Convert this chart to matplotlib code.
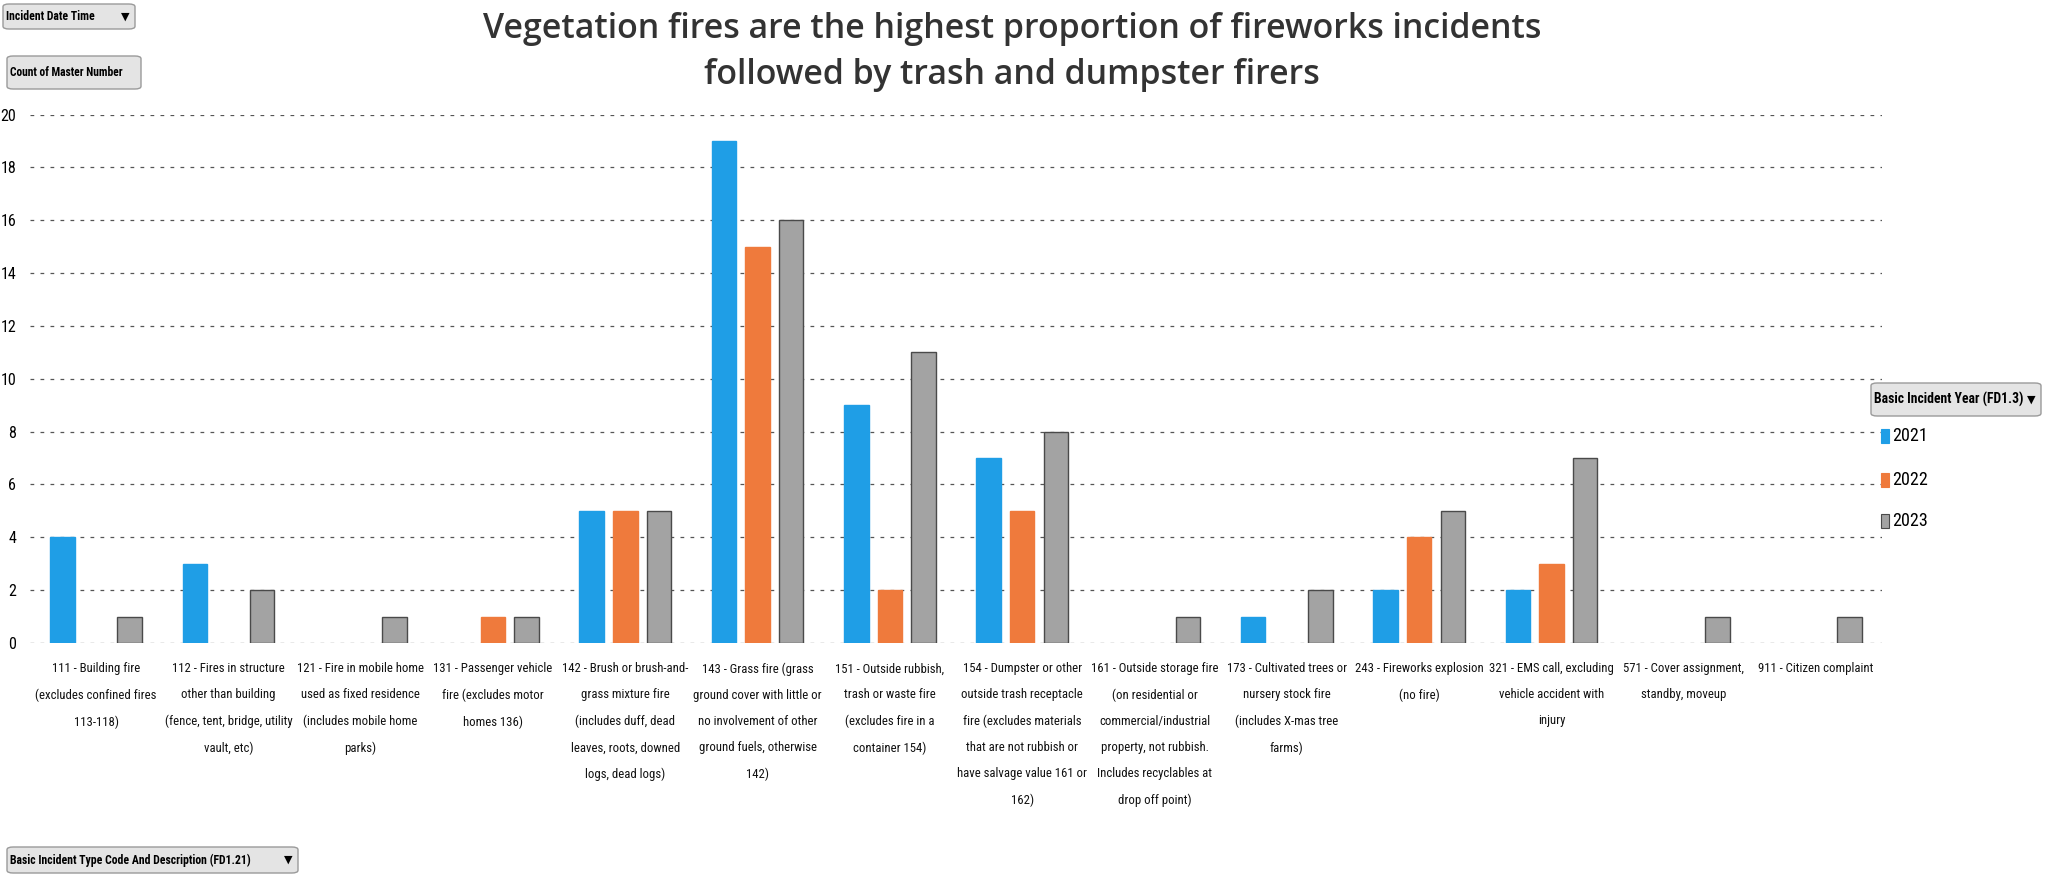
import numpy as np
import matplotlib
matplotlib.use("Agg")
import matplotlib.pyplot as plt
from matplotlib import font_manager
from matplotlib.patches import FancyBboxPatch

# data
categories = [
    "111 - Building fire\n(excludes confined fires\n113-118)",
    "112 - Fires in structure\nother than building\n(fence, tent, bridge, utility\nvault, etc)",
    "121 - Fire in mobile home\nused as fixed residence\n(includes mobile home\nparks)",
    "131 - Passenger vehicle\nfire (excludes motor\nhomes 136)",
    "142 - Brush or brush-and-\ngrass mixture fire\n(includes duff, dead\nleaves, roots, downed\nlogs, dead logs)",
    "143 - Grass fire (grass\nground cover with little or\nno involvement of other\nground fuels, otherwise\n142)",
    "151 - Outside rubbish,\ntrash or waste fire\n(excludes fire in a\ncontainer 154)",
    "154 - Dumpster or other\noutside trash receptacle\nfire (excludes materials\nthat are not rubbish or\nhave salvage value 161 or\n162)",
    "161 - Outside storage fire\n(on residential or\ncommercial/industrial\nproperty, not rubbish.\nIncludes recyclables at\ndrop off point)",
    "173 - Cultivated trees or\nnursery stock fire\n(includes X-mas tree\nfarms)",
    "243 - Fireworks explosion\n(no fire)",
    "321 - EMS call, excluding\nvehicle accident with\ninjury",
    "571 - Cover assignment,\nstandby, moveup",
    "911 - Citizen complaint",
]
years = ["2021", "2022", "2023"]
y2021 = [4, 3, 0, 0, 5, 19, 9, 7, 0, 1, 2, 2, 0, 0]
y2022 = [0, 0, 0, 1, 5, 15, 2, 5, 0, 0, 4, 3, 0, 0]
y2023 = [1, 2, 1, 1, 5, 16, 11, 8, 1, 2, 5, 7, 1, 1]

colors = ["#1f9ee6", "#ef7a3c", "#a3a3a3"]
edges = ["#1f9ee6", "#ef7a3c", "#4a4a4a"]

# pick a condensed face if one is installed
installed = {f.name for f in font_manager.fontManager.ttflist}
narrow_name = "Liberation Sans"
scale = 0.82
for cand in ["Liberation Sans Narrow", "Roboto Condensed", "Noto Sans Condensed",
             "Open Sans Condensed", "DejaVu Sans Condensed"]:
    if cand in installed:
        narrow_name = cand
        scale = 1.0
        break
narrow = [narrow_name, "DejaVu Sans"]

fig = plt.figure(figsize=(20.49, 8.82), dpi=100)
ax = fig.add_axes([0.0146, 0.271, 0.904, 0.599])

x = np.arange(len(categories))
w = 0.185
step = 0.254
for i, vals in enumerate([y2021, y2022, y2023]):
    vals = np.array(vals, dtype=float)
    keep = vals > 0
    ax.bar(x[keep] + (i - 1) * step, vals[keep], width=w, color=colors[i],
           edgecolor=edges[i], linewidth=1.0, zorder=3)

ax.set_xlim(-0.5, len(categories) - 0.5)
ax.set_ylim(0, 20)
ax.set_yticks(range(0, 21, 2))
ax.set_yticklabels([str(v) for v in range(0, 21, 2)], family=narrow, fontsize=11.5)
ax.set_xticks(x)
ax.set_xticklabels(categories, family=narrow, fontsize=9.2 * scale, linespacing=2.3,
                   va="top", color="#111111")
ax.tick_params(axis="both", length=0)
ax.tick_params(axis="x", pad=14)
ax.tick_params(axis="y", pad=10)
ax.grid(axis="y", color="#555555", linestyle=(0, (3, 5)), linewidth=0.9, zorder=0)
for s in ax.spines.values():
    s.set_visible(False)

fig.text(0.494, 0.967, "Vegetation fires are the highest proportion of fireworks incidents",
         ha="center", va="center", fontsize=24.4, color="#333333", family="Open Sans",
         fontweight="semibold")
fig.text(0.494, 0.9155, "followed by trash and dumpster firers",
         ha="center", va="center", fontsize=24.4, color="#333333", family="Open Sans",
         fontweight="semibold")


def button(x0, y0, x1, y1, text, size, arrow=None):
    # pivot field buttons, pixel coords from the top left
    W, H = 2049, 882
    box = FancyBboxPatch((x0 / W, 1 - y1 / H), (x1 - x0) / W, (y1 - y0) / H,
                         boxstyle="round,pad=0.0,rounding_size=0.003",
                         transform=fig.transFigure, facecolor="#e4e4e4",
                         edgecolor="#9a9a9a", linewidth=1.0)
    fig.patches.append(box)
    fig.text((x0 + 3) / W, 1 - (y0 + y1) / 2 / H, text, ha="left", va="center",
             fontsize=size * scale, family=narrow, color="black", fontweight="bold")
    if arrow:
        fig.text((x1 - 10) / W, 1 - (y0 + y1) / 2 / H, arrow, ha="center",
                 va="center", fontsize=8, color="black")


button(3, 4, 135, 29, "Incident Date Time", 8.5, "\u25bc")
button(7, 56, 141, 89, "Count of Master Number", 8.3)
button(7, 847, 298, 873, "Basic Incident Type Code And Description (FD1.21)", 8.5, "\u25bc")
button(1871, 383, 2041, 416, "Basic Incident Year (FD1.3)", 9.8, "\u25bc")

# legend
for i, (yr, yy) in enumerate(zip(years, [436, 480, 521])):
    fig.patches.append(plt.Rectangle((1881 / 2049, 1 - (yy + 7) / 882), 8 / 2049, 14 / 882,
                                     transform=fig.transFigure, facecolor=colors[i],
                                     edgecolor=edges[i], linewidth=0.8))
    fig.text(1892 / 2049, 1 - yy / 882, yr, ha="left", va="center",
             fontsize=13, family=narrow)

fig.savefig("out.png", dpi=100)
